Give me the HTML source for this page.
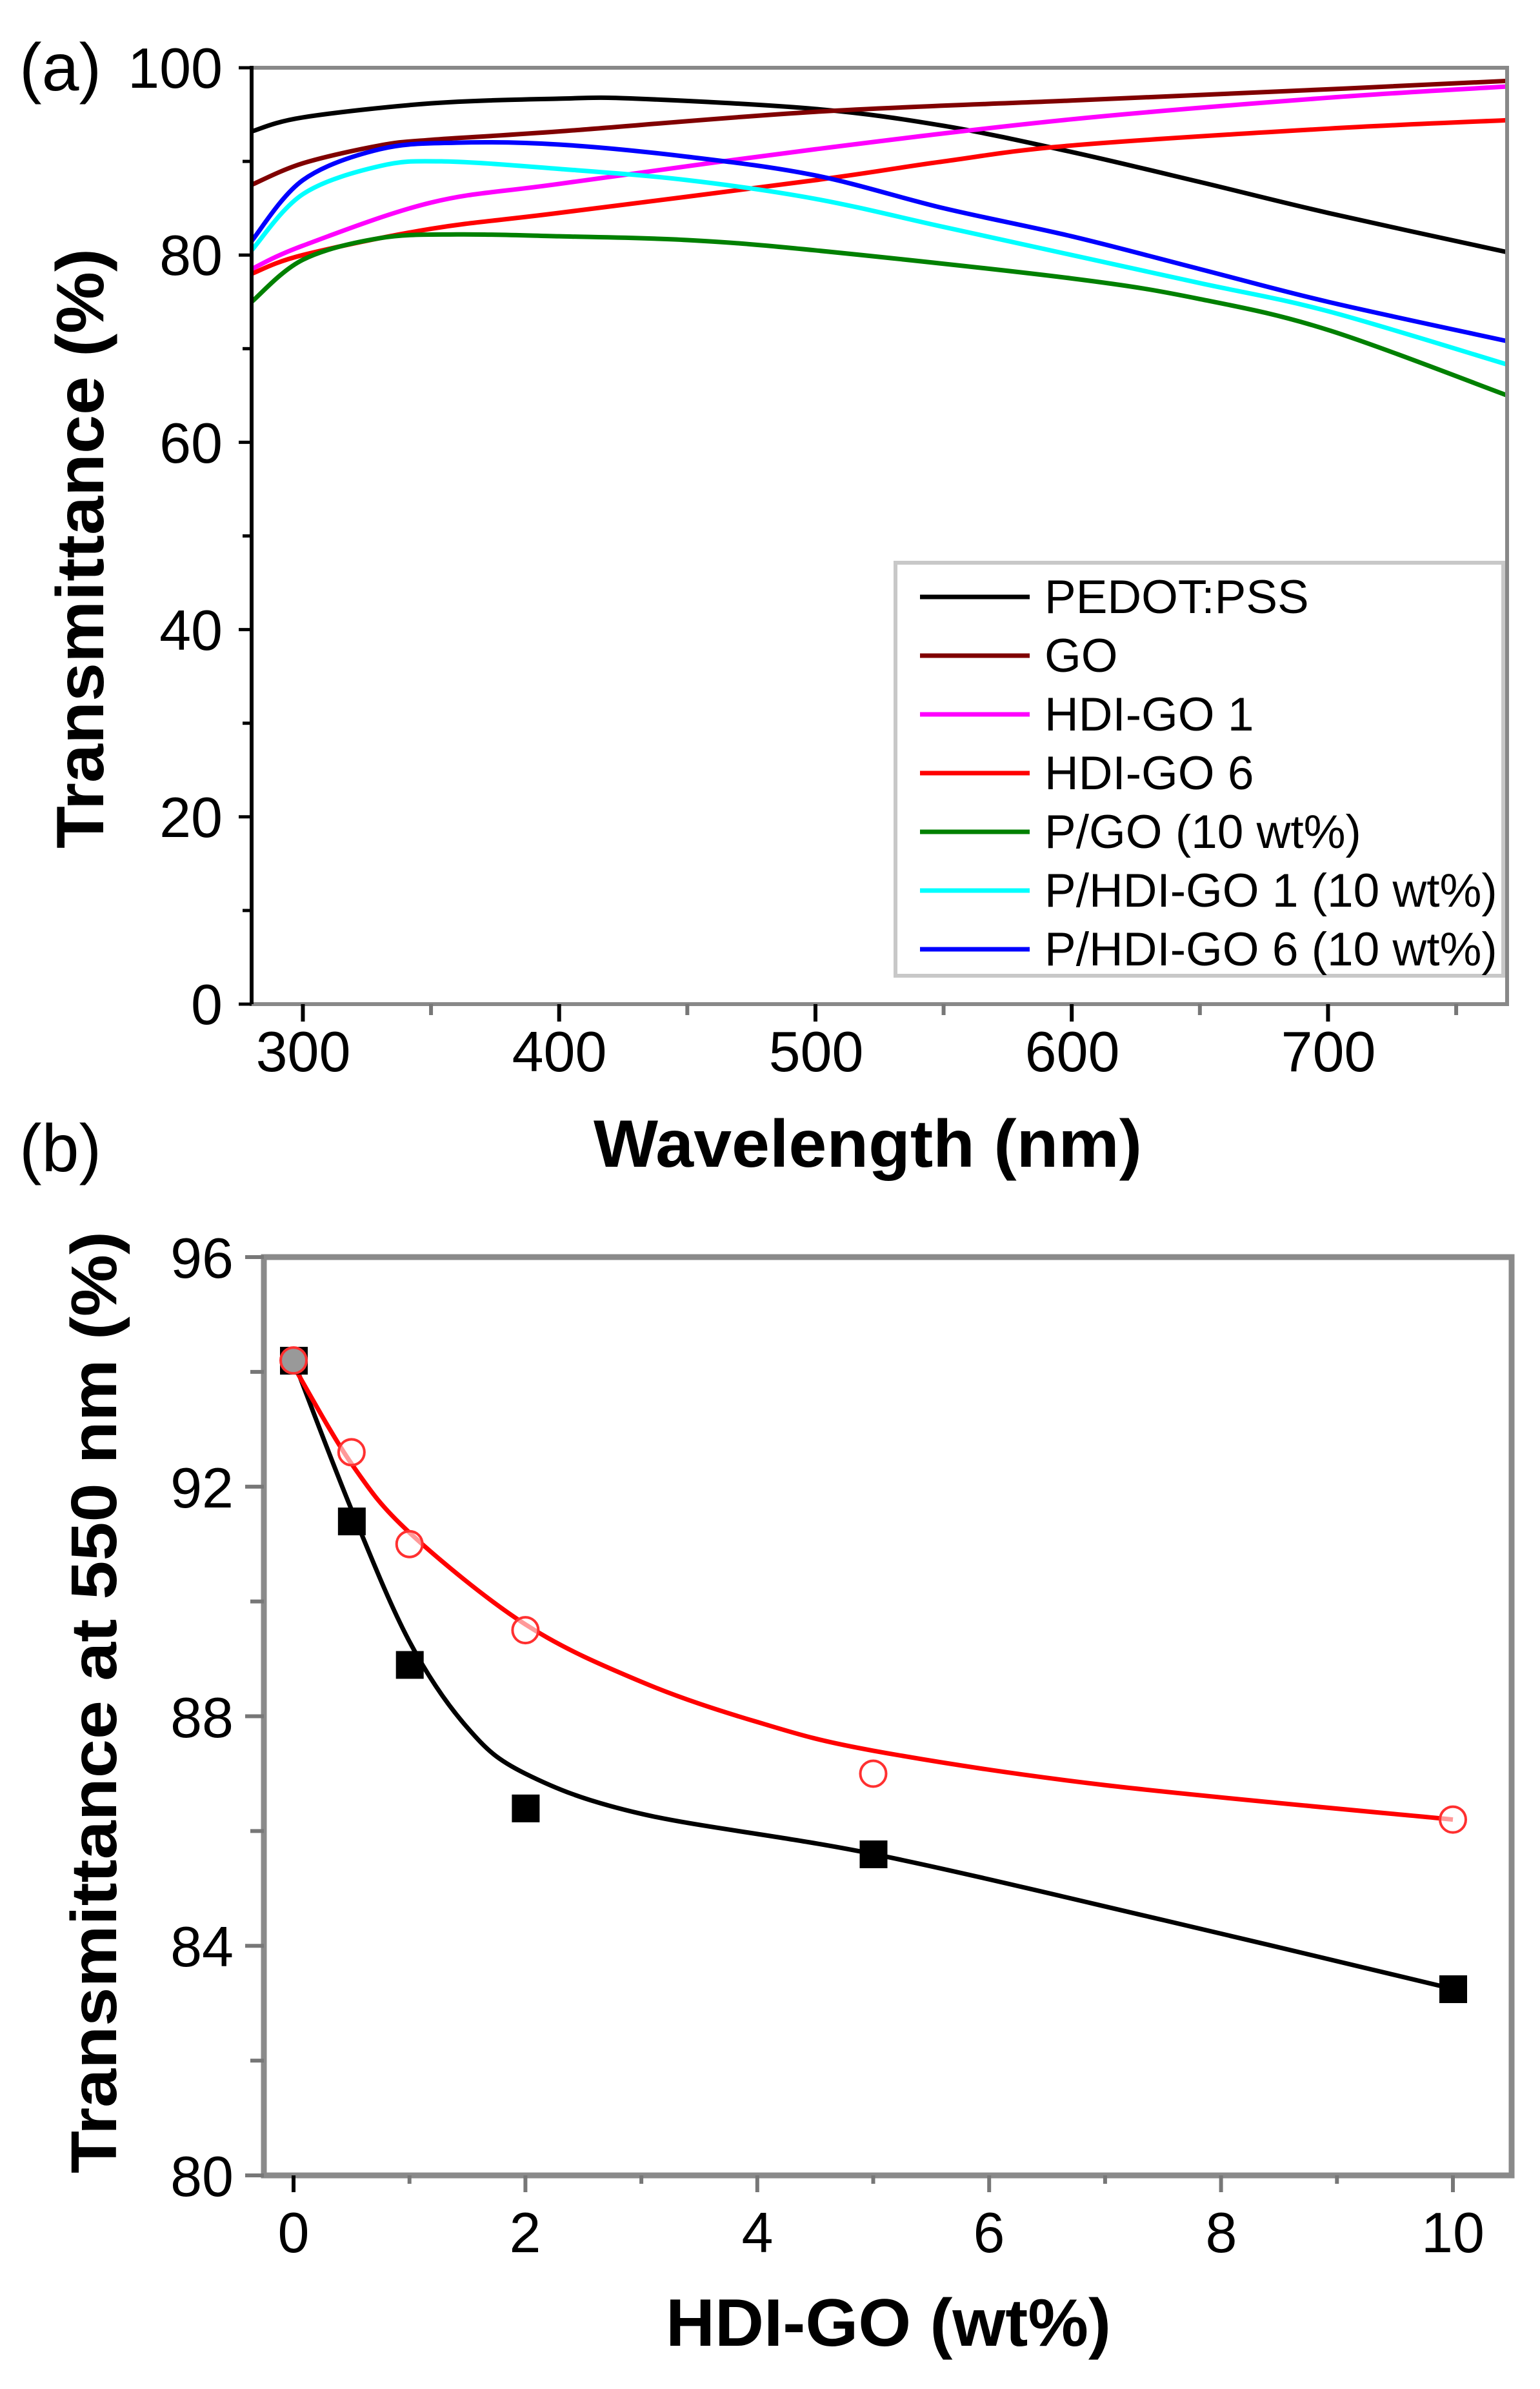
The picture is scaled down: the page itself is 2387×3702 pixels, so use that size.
<!DOCTYPE html>
<html><head><meta charset="utf-8"><style>
html,body{margin:0;padding:0;background:#fff;}
svg{display:block;}
text{font-family:"Liberation Sans",Arial,sans-serif;fill:#000;}
</style></head><body>
<svg id="s" width="2387" height="3702" viewBox="0 0 2387 3702" xmlns="http://www.w3.org/2000/svg">
<rect width="2387" height="3702" fill="#fff"/>
<g id="g"></g>
<text x="30" y="140" font-size="104">(a)</text>
<text x="30" y="1815" font-size="104">(b)</text>
<g font-size="88" text-anchor="end">
<text x="345" y="136">100</text>
<text x="345" y="426">80</text>
<text x="345" y="717">60</text>
<text x="345" y="1007">40</text>
<text x="345" y="1297">20</text>
<text x="345" y="1587">0</text>
</g>
<g font-size="88" text-anchor="middle">
<text x="470" y="1660">300</text>
<text x="867" y="1660">400</text>
<text x="1265" y="1660">500</text>
<text x="1662" y="1660">600</text>
<text x="2059" y="1660">700</text>
</g>
<text x="1345" y="1808" font-size="104" font-weight="bold" text-anchor="middle" textLength="850" lengthAdjust="spacingAndGlyphs">Wavelength (nm)</text>
<text transform="translate(160,850) rotate(-90)" font-size="104" font-weight="bold" text-anchor="middle" textLength="930" lengthAdjust="spacingAndGlyphs">Transmittance (%)</text>
<rect x="1388" y="872" width="942" height="640" fill="#fff" stroke="#c8c8c8" stroke-width="6"/>
<g font-size="73">
<text x="1619" y="950">PEDOT:PSS</text>
<text x="1619" y="1041">GO</text>
<text x="1619" y="1132">HDI-GO 1</text>
<text x="1619" y="1223">HDI-GO 6</text>
<text x="1619" y="1314">P/GO (10 wt%)</text>
<text x="1619" y="1405">P/HDI-GO 1 (10 wt%)</text>
<text x="1619" y="1496">P/HDI-GO 6 (10 wt%)</text>
</g>
<g stroke-width="7">
<line x1="1426" x2="1596" y1="925" y2="925" stroke="#000"/>
<line x1="1426" x2="1596" y1="1016" y2="1016" stroke="#800000"/>
<line x1="1426" x2="1596" y1="1107" y2="1107" stroke="#ff00ff"/>
<line x1="1426" x2="1596" y1="1198" y2="1198" stroke="#ff0000"/>
<line x1="1426" x2="1596" y1="1289" y2="1289" stroke="#008000"/>
<line x1="1426" x2="1596" y1="1380" y2="1380" stroke="#00ffff"/>
<line x1="1426" x2="1596" y1="1471" y2="1471" stroke="#0000ff"/>
</g>
<g font-size="88" text-anchor="end">
<text x="362" y="1980">96</text>
<text x="362" y="2336">92</text>
<text x="362" y="2692">88</text>
<text x="362" y="3047">84</text>
<text x="362" y="3403">80</text>
</g>
<g font-size="88" text-anchor="middle">
<text x="455" y="3490">0</text>
<text x="814" y="3490">2</text>
<text x="1174" y="3490">4</text>
<text x="1533" y="3490">6</text>
<text x="1893" y="3490">8</text>
<text x="2252" y="3490">10</text>
</g>
<text x="1377" y="3635" font-size="104" font-weight="bold" text-anchor="middle" textLength="690" lengthAdjust="spacingAndGlyphs">HDI-GO (wt%)</text>
<text transform="translate(180,2638) rotate(-90)" font-size="100" font-weight="bold" text-anchor="middle" textLength="1460" lengthAdjust="spacingAndGlyphs">Transmittance at 550 nm (%)</text>
</svg>
<script>
(function(){
var g=document.getElementById('g'),NS='http://www.w3.org/2000/svg';
function el(n,a){var e=document.createElementNS(NS,n);for(var k in a)e.setAttribute(k,a[k]);g.appendChild(e);return e;}
function path(pts){var d='M'+pts[0][0]+','+pts[0][1];
for(var i=0;i<pts.length-1;i++){var p0=pts[i-1]||pts[i],p1=pts[i],p2=pts[i+1],p3=pts[i+2]||p2;
var c1x=p1[0]+(p2[0]-p0[0])/6,c1y=p1[1]+(p2[1]-p0[1])/6,c2x=p2[0]-(p3[0]-p1[0])/6,c2y=p2[1]-(p3[1]-p1[1])/6;
d+=' C'+c1x+','+c1y+' '+c2x+','+c2y+' '+p2[0]+','+p2[1];}return d;}
function AX(w){return 390+(w-280)*3.9725;} function AY(t){return 1556-t*14.51;}
var A=[
['#000',[[280,93.2],[300,94.7],[350,96.2],[400,96.7],[430,96.7],[500,95.6],[550,93.8],[600,91],[650,87.8],[700,84.5],[770,80.3]]],
['#800000',[[280,87.5],[300,89.8],[330,91.7],[350,92.3],[400,93.2],[500,95.3],[600,96.5],[700,97.7],[770,98.6]]],
['#ff00ff',[[280,78.5],[300,81],[350,85.6],[400,87.6],[500,91.3],[600,94.5],[700,96.8],[770,98]]],
['#ff0000',[[280,78],[300,80],[350,82.8],[400,84.5],[500,88],[550,90],[600,91.7],[700,93.5],[770,94.4]]],
['#008000',[[280,75],[300,79.5],[330,81.8],[360,82.2],[400,82],[450,81.6],[500,80.5],[600,77.5],[650,75.3],[700,72],[770,65]]],
['#00ffff',[[280,80.5],[300,86.5],[330,89.5],[355,90],[400,89.2],[450,88],[500,86],[550,83],[600,80],[650,77],[700,74],[770,68.3]]],
['#0000ff',[[280,81.5],[300,88],[330,91.3],[360,92],[400,91.8],[450,90.5],[500,88.5],[550,85],[600,82],[650,78.5],[700,75],[770,70.8]]]
];
A.forEach(function(s){el('path',{d:path(s[1].map(function(p){return [AX(p[0]),AY(p[1])];})),fill:'none',stroke:s[0],'stroke-width':7});});
el('rect',{x:390,y:105,width:1946,height:1451,fill:'none',stroke:'#888','stroke-width':6});
el('line',{x1:390,y1:102,x2:390,y2:1556,stroke:'#000','stroke-width':6});
for(var t=0;t<=100;t+=10){el('line',{x1:t%20?376:370,x2:390,y1:AY(t),y2:AY(t),stroke:'#000','stroke-width':5});}
for(var w=300;w<=750;w+=50){el('line',{x1:AX(w),x2:AX(w),y1:1556,y2:w%100?1573:1583,stroke:w%100?'#777':'#000','stroke-width':6});}
function BX(v){return 455+v*179.7;} function BY(t){return 1948+(96-t)*88.94;}
el('rect',{x:409,y:1948,width:1934,height:1423,fill:'none',stroke:'#8a8a8a','stroke-width':9});
for(var t=80;t<=96;t+=2){el('line',{x1:t%4?388:380,x2:409,y1:BY(t),y2:BY(t),stroke:'#777','stroke-width':6});}
for(var v=0;v<=10;v++){el('line',{x1:BX(v),x2:BX(v),y1:3371,y2:v%2?3384:3397,stroke:v==0?'#000':'#777','stroke-width':6});}
var bk=[[0,94.2],[0.5,91.6],[1,89.3],[1.5,87.8],[2,87.0],[3,86.3],[5,85.6],[7.5,84.45],[10,83.25]];
var rd=[[0,94.1],[0.5,92.4],[1,91.2],[2,89.6],[3,88.6],[4,87.9],[5,87.4],[7,86.8],[10,86.2]];
el('path',{d:path(bk.map(function(p){return [BX(p[0]),BY(p[1])];})),fill:'none',stroke:'#000','stroke-width':7});
el('path',{d:path(rd.map(function(p){return [BX(p[0]),BY(p[1])];})),fill:'none',stroke:'#ff0000','stroke-width':7});
[[0,94.2],[0.5,91.4],[1,88.9],[2,86.4],[5,85.6],[10,83.25]].forEach(function(p){el('rect',{x:BX(p[0])-21,y:BY(p[1])-21,width:43,height:43,fill:'#000'});});
[[0,94.2],[0.5,92.6],[1,91.0],[2,89.5],[5,87.0],[10,86.2]].forEach(function(p){el('circle',{cx:BX(p[0]),cy:BY(p[1]),r:20,fill:'#fff','fill-opacity':0.6,stroke:'#ff3030','stroke-width':4});});
})();
</script>
</body></html>
